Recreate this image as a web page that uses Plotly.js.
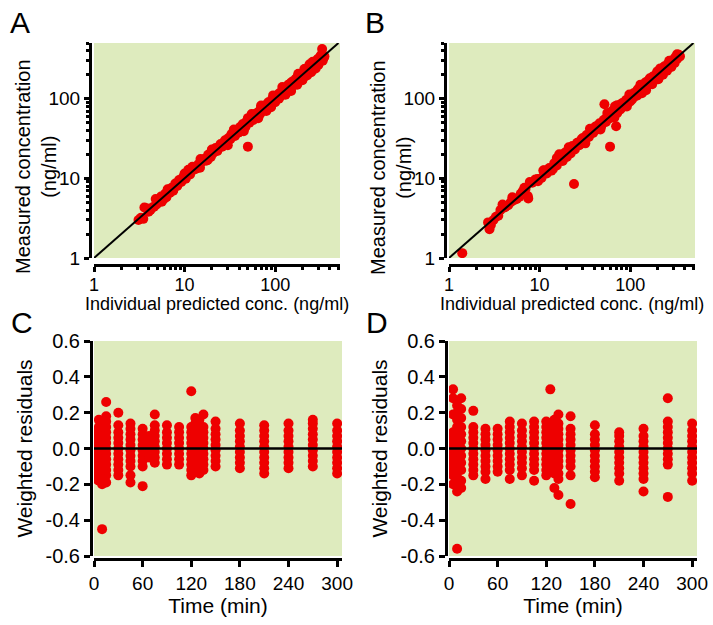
<!DOCTYPE html>
<html><head><meta charset="utf-8">
<script src="https://cdn.plot.ly/plotly-3.0.1.min.js"></script>
<style>html,body{margin:0;padding:0;background:#fff}#chart{width:713px;height:625px}</style>
</head><body><div id="chart"></div>
<script>
// ---- Data ----
// Panel A: individual predicted vs measured concentration (ng/ml)
const aPred = [3.1,3.3,3.5,3.6,3.8,4.0,4.2,4.4,4.6,4.9, 5.2,5.5,5.6,5.9,6.1,6.3,6.6,6.9,7.2,7.5, 7.9,8.3,8.7,9.2,9.6,10.3,11.0,11.5,12.2,12.8, 13.4,14.2,14.8,15.5,16.5,17.3,18.2,19.5,20.5,22, 23,24.5,26,27.5,29,30.5,32,34,36,37, 39,41,43,45,47,50,49,52,55,57, 60,62,65,68,71,74,77,80,84,88, 92,96,100,105,110,115,120,125,131,137, 143,150,157,164,172,180,188,197,206,215, 225,235,246,257,268,280,292,305,318,330, 340,350,335,260,210,150,90,70,33,18,
  100,120,140,160,180,200,220,240,270,300, 320,345,60,75,40,25,12,8,5,28, 44,85,130,170,230,290,110,190,250,310,
  150,175,200,225,250,280,300,120,95,70, 55,35,20,15,10,6.5,4.8,30,45,65, 90,130,210,260,320,180,240,140,80,50];
const aMeas = [3.0,3.2,3.1,4.3,4.2,3.8,4.0,4.3,4.4,4.7, 5.4,5.9,5.1,5.5,6.4,5.8,7.2,6.6,7.6,7.0, 8.6,8.0,9.5,9.0,10.3,9.9,12.8,11.2,14.0,12.9, 13.2,15.0,13.6,16.2,17.5,16.6,19.8,18.6,20.5,24, 22,25.8,25,28.5,27.5,32,31,35.5,34,39, 37.5,44,41,47,44,25,53,50,58,54, 64,59,68,64,76,70,82,76,90,84, 97,92,106,100,116,108,127,118,138,130, 151,142,165,155,180,170,198,187,215,203, 236,222,258,243,285,265,310,290,335,420, 320,340,300,230,190,160,80,78,36,17,
  90,112,150,148,195,185,240,225,250,320, 300,330,56,80,38,27,12.5,8.4,5.0,30, 48,78,124,178,210,280,100,175,270,300,
  125,150,170,195,215,240,265,140,110,82, 64,41,23,17.5,11.5,7.3,5.5,26,39,57, 78,112,235,290,350,205,270,125,70,57];
// Panel B
const bPred = [1.4,2.7,2.8,2.9,3.1,3.3,3.5,3.7,3.9,4.2, 4.5,4.8,5.2,5.6,6.0,6.5,7.0,7.4,7.5,7.8, 8.3,9.0,9.6,10.5,11.2,12,12.8,13.5,14.5,15.5, 16.5,17,18,19,20,21,22,23,24,24.5, 26,27.5,29,31,33,35,37,39,41,43, 46,48,51,52,54,57,60,60,63,66, 68,70,72,75,78,82,86,90,95,100, 105,110,115,121,127,133,140,147,155,162, 170,178,187,196,206,216,227,238,250,262, 275,288,300,315,330,345,355,200,120,65,
  100,125,145,165,185,210,230,260,280,310, 335,55,80,42,30,18,14,9.5,6.2,4.1, 62,88,150,240,295,
  150,175,205,230,255,285,310,130,98,72, 56,36,21,15.5,11,6.8,5,32,47,67, 92,135,215,270,330];
const bMeas = [1.15,2.8,2.3,2.6,3.0,3.3,3.4,4.0,4.7,4.4, 4.6,5.0,5.3,5.5,5.9,6.9,7.4,6.0,5.6,9.0, 8.8,9.7,9.2,10.1,12.6,11.5,13.5,12.5,15.5,14.5, 20,17.5,16.5,21,18.5,24,20.5,25.5,8.5,23, 28,26,31,29,35,33,40,37,44,41, 49,45,54,85,51,61,25,57,70,62, 80,45,66,80,73,88,80,96,89,107, 98,118,108,130,120,143,131,158,145,172, 160,190,176,208,194,228,213,252,235,275, 258,302,285,330,315,355,340,220,110,68,
  92,135,138,180,170,225,215,245,295,300, 345,58,86,45,32,19.5,13,9.8,6.4,4.3, 66,84,162,255,280,
  128,152,175,200,225,250,280,150,113,83, 66,42,24.5,18,12.5,7.6,5.8,27.5,41,58, 80,117,240,300,360];
// identity line endpoints
const identity = [1, 500];

// Panel C: weighted residuals by sampling time (min)
const cTime = [3,6,10,15,30,45,60,68,75,90,105,120,125,130,135,150,180,210,240,270,300];
const cRes = [
  [-0.17,-0.14,-0.11,-0.08,-0.05,-0.02,0.01,0.04,0.07,0.10],
  [-0.18,-0.15,-0.12,-0.09,-0.06,-0.03,0.00,0.03,0.06,0.09,0.12,0.16],
  [-0.45,-0.20,-0.17,-0.13,-0.10,-0.07,-0.04,-0.01,0.02,0.05,0.08,0.11,0.14],
  [-0.19,-0.15,-0.12,-0.09,-0.06,-0.03,0.00,0.03,0.06,0.09,0.12,0.15,0.18,0.26],
  [-0.15,-0.12,-0.09,-0.06,-0.03,0.00,0.03,0.06,0.09,0.13,0.20],
  [-0.19,-0.15,-0.10,-0.07,-0.04,-0.01,0.02,0.05,0.08,0.11,0.14],
  [-0.21,-0.10,-0.07,-0.04,-0.01,0.02,0.05,0.08,0.11],
  [-0.05,-0.02,0.01,0.04,0.07],
  [-0.08,-0.05,-0.02,0.01,0.04,0.07,0.10,0.13,0.19],
  [-0.09,-0.06,-0.03,0.00,0.03,0.06,0.09,0.13],
  [-0.09,-0.06,-0.03,0.00,0.03,0.06,0.09,0.12],
  [-0.15,-0.12,-0.09,-0.06,-0.03,0.00,0.03,0.06,0.09,0.12,0.32],
  [-0.13,-0.10,-0.07,-0.04,-0.01,0.02,0.05,0.08,0.11,0.14,0.17],
  [-0.14,-0.11,-0.08,-0.05,-0.02,0.01,0.04,0.07,0.10,0.13,0.16],
  [-0.12,-0.09,-0.06,-0.03,0.00,0.03,0.06,0.09,0.12,0.19],
  [-0.10,-0.07,-0.04,-0.01,0.02,0.05,0.08,0.11,0.15],
  [-0.11,-0.08,-0.05,-0.02,0.01,0.04,0.07,0.10,0.14],
  [-0.14,-0.11,-0.08,-0.05,-0.02,0.01,0.04,0.07,0.10,0.13],
  [-0.11,-0.08,-0.05,-0.02,0.01,0.04,0.07,0.10,0.14],
  [-0.10,-0.07,-0.04,-0.01,0.02,0.05,0.08,0.11,0.14,0.16],
  [-0.14,-0.11,-0.08,-0.05,-0.02,0.01,0.04,0.07,0.10,0.14]
];
// Panel D
const dTime = [5,10,15,30,45,60,75,90,105,120,125,130,135,150,180,210,240,270,300];
const dRes = [
  [-0.20,-0.15,-0.12,-0.09,-0.06,-0.03,0.00,0.03,0.06,0.09,0.19,0.28,0.33],
  [-0.56,-0.24,-0.20,-0.16,-0.12,-0.08,-0.04,0.00,0.04,0.08,0.12,0.16,0.20,0.24],
  [-0.22,-0.18,-0.12,-0.08,-0.04,0.00,0.04,0.08,0.12,0.17,0.22,0.28],
  [-0.15,-0.12,-0.09,-0.06,-0.03,0.00,0.03,0.06,0.09,0.12,0.21],
  [-0.17,-0.13,-0.10,-0.07,-0.04,-0.01,0.02,0.05,0.08,0.11],
  [-0.13,-0.10,-0.07,-0.04,-0.01,0.02,0.05,0.08,0.11],
  [-0.17,-0.12,-0.09,-0.06,-0.03,0.00,0.03,0.06,0.09,0.12,0.15],
  [-0.15,-0.11,-0.08,-0.05,-0.02,0.01,0.04,0.07,0.10,0.14],
  [-0.18,-0.12,-0.09,-0.06,-0.03,0.00,0.03,0.06,0.09,0.12,0.15],
  [-0.15,-0.12,-0.09,-0.06,-0.03,0.00,0.03,0.06,0.09,0.12,0.15],
  [-0.13,-0.10,-0.07,-0.04,-0.01,0.02,0.05,0.08,0.11,0.14,0.33],
  [-0.22,-0.14,-0.11,-0.08,-0.05,-0.02,0.01,0.04,0.07,0.10,0.13,0.16],
  [-0.26,-0.17,-0.14,-0.10,-0.07,-0.04,-0.01,0.02,0.05,0.08,0.11,0.14,0.19],
  [-0.31,-0.15,-0.10,-0.07,-0.04,-0.01,0.02,0.05,0.08,0.11,0.18],
  [-0.16,-0.13,-0.10,-0.07,-0.04,-0.01,0.02,0.05,0.08,0.13],
  [-0.18,-0.14,-0.11,-0.08,-0.05,-0.02,0.01,0.04,0.07,0.09],
  [-0.24,-0.17,-0.14,-0.11,-0.08,-0.05,-0.02,0.01,0.04,0.07,0.11],
  [-0.27,-0.09,-0.06,-0.03,0.00,0.03,0.06,0.09,0.12,0.15,0.28],
  [-0.18,-0.14,-0.11,-0.08,-0.05,-0.02,0.01,0.04,0.07,0.10,0.14]
];
const zeroLineX = [0, 310];
const zeroLineY = [0, 0];

// Tick labels
const logTickVals = [1, 10, 100];
const logTickText = ['1', '10', '100'];
const resTickVals = [-0.6, -0.4, -0.2, 0, 0.2, 0.4, 0.6];
const resTickText = ['-0.6', '-0.4', '-0.2', '0.0', '0.2', '0.4', '0.6'];
const timeTickVals = [0, 60, 120, 180, 240, 300];
const timeTickText = ['0', '60', '120', '180', '240', '300'];
const panelLetters = ['A', 'B', 'C', 'D'];

// ---- Build ----
const W = 713, H = 625;
const FONT = 'Liberation Sans, Arial, Helvetica, sans-serif';
const RED = '#ee0000';
const BG = '#deebbe';
const px = p => p / W;
const py = p => 1 - p / H;

const logMinor = [];
[1, 10, 100].forEach(d => { for (let k = 2; k <= 9; k++) { if (d * k <= 500) logMinor.push(d * k); } });

function flatten(times, res) {
  const x = [], y = [];
  times.forEach((t, i) => res[i].forEach(v => { x.push(t); y.push(v); }));
  return {x, y};
}
const cFlat = flatten(cTime, cRes);
const dFlat = flatten(dTime, dRes);

const marker = {color: RED, size: 10, line: {width: 0}};
const traces = [
  {x: aPred, y: aMeas, xaxis: 'x', yaxis: 'y', mode: 'markers', type: 'scatter', marker},
  {x: identity, y: identity, xaxis: 'x', yaxis: 'y', mode: 'lines', type: 'scatter', line: {color: '#000', width: 2}},
  {x: bPred, y: bMeas, xaxis: 'x2', yaxis: 'y2', mode: 'markers', type: 'scatter', marker},
  {x: identity, y: identity, xaxis: 'x2', yaxis: 'y2', mode: 'lines', type: 'scatter', line: {color: '#000', width: 2}},
  {x: cFlat.x, y: cFlat.y, xaxis: 'x3', yaxis: 'y3', mode: 'markers', type: 'scatter', marker},
  {x: zeroLineX, y: zeroLineY, xaxis: 'x3', yaxis: 'y3', mode: 'lines', type: 'scatter', line: {color: '#000', width: 2.5}},
  {x: dFlat.x, y: dFlat.y, xaxis: 'x4', yaxis: 'y4', mode: 'markers', type: 'scatter', marker},
  {x: zeroLineX, y: zeroLineY, xaxis: 'x4', yaxis: 'y4', mode: 'lines', type: 'scatter', line: {color: '#000', width: 2.5}}
];

function axisCommon(extra) {
  return Object.assign({
    showline: true, linewidth: 3, linecolor: '#000', mirror: false,
    showgrid: false, zeroline: false,
    ticks: 'outside', tickwidth: 3, ticklen: 5, tickcolor: '#000',
    tickfont: {family: FONT, size: 19, color: '#000'},
    tickmode: 'array', fixedrange: true
  }, extra);
}

const layout = {
  width: W, height: H,
  margin: {l: 0, r: 0, t: 0, b: 0},
  paper_bgcolor: '#fff',
  showlegend: false,
  font: {family: FONT, color: '#000'},
  annotations: [],
  shapes: []
};

// Top row (log-log)
[0, 355].forEach((off, i) => {
  const sx = i === 0 ? '' : '2';
  layout['xaxis' + sx] = axisCommon({
    type: 'log', range: [0, Math.log10(520)],
    domain: [px(94 + off), px(340 + off)],
    anchor: 'free', position: py(265),
    tickvals: logTickVals, ticktext: logTickText,
    ticklabelstandoff: -3,
    tickfont: {family: FONT, size: 18, color: '#000'},
    minor: {tickmode: 'array', tickvals: logMinor, ticks: 'outside', ticklen: 3, tickwidth: 3, tickcolor: '#000', showgrid: false}
  });
  layout['yaxis' + sx] = axisCommon({
    type: 'log', range: [0, Math.log10(500)],
    domain: [py(258), py(43)],
    anchor: 'free', position: px(90 + off),
    tickvals: logTickVals, ticktext: logTickText,
    minor: {tickmode: 'array', tickvals: logMinor, ticks: 'outside', ticklen: 3, tickwidth: 3, tickcolor: '#000', showgrid: false}
  });
  // axis titles placed as text, as in the reference
  layout.annotations.push({
    text: 'Measured concentration<br>(ng/ml)', xref: 'paper', yref: 'paper',
    x: px(36 + off), y: py(167), xanchor: 'center', yanchor: 'middle', textangle: -90,
    showarrow: false, font: {family: FONT, size: 20, color: '#000'}
  });
  layout.annotations.push({
    text: 'Individual predicted conc. (ng/ml)', xref: 'paper', yref: 'paper',
    x: px(217 + off), y: py(304), xanchor: 'center', yanchor: 'middle',
    showarrow: false, font: {family: FONT, size: 18, color: '#000'}
  });
});

// Bottom row (residuals)
[0, 355].forEach((off, i) => {
  const n = i === 0 ? '3' : '4';
  layout['xaxis' + n] = axisCommon({
    type: 'linear', range: [0, 306],
    domain: [px(94 + off), px(342 + off)],
    anchor: 'free', position: py(559),
    tickvals: timeTickVals, ticktext: timeTickText,
    ticklen: 6,
    tickfont: {family: FONT, size: 19, color: '#000'},
    title: {text: 'Time (min)', font: {family: FONT, size: 21, color: '#000'}, standoff: 4}
  });
  layout['yaxis' + n] = axisCommon({
    type: 'linear', range: [-0.6, 0.6],
    domain: [py(556), py(341)],
    anchor: 'free', position: px(91 + off),
    tickvals: resTickVals, ticktext: resTickText,
    ticklen: 6,
    tickfont: {family: FONT, size: 20, color: '#000'},
    title: {text: 'Weighted residuals', font: {family: FONT, size: 21, color: '#000'}, standoff: 6}
  });
});

// Plot area backgrounds
[['x', 'y'], ['x2', 'y2'], ['x3', 'y3'], ['x4', 'y4']].forEach(([xa, ya]) => {
  layout.shapes.push({type: 'rect', xref: xa + ' domain', yref: ya + ' domain', x0: 0, x1: 1, y0: 0, y1: 1,
    fillcolor: BG, line: {width: 0}, layer: 'below'});
});

// Panel letters
const letterPos = [[20, 23], [375, 23], [22, 322], [377, 322]];
panelLetters.forEach((t, i) => {
  layout.annotations.push({text: t, xref: 'paper', yref: 'paper', x: px(letterPos[i][0]), y: py(letterPos[i][1]),
    xanchor: 'center', yanchor: 'middle', showarrow: false, font: {family: FONT, size: 30, color: '#000'}});
});

Plotly.newPlot('chart', traces, layout, {displayModeBar: false, staticPlot: true});
</script>
</body></html>
